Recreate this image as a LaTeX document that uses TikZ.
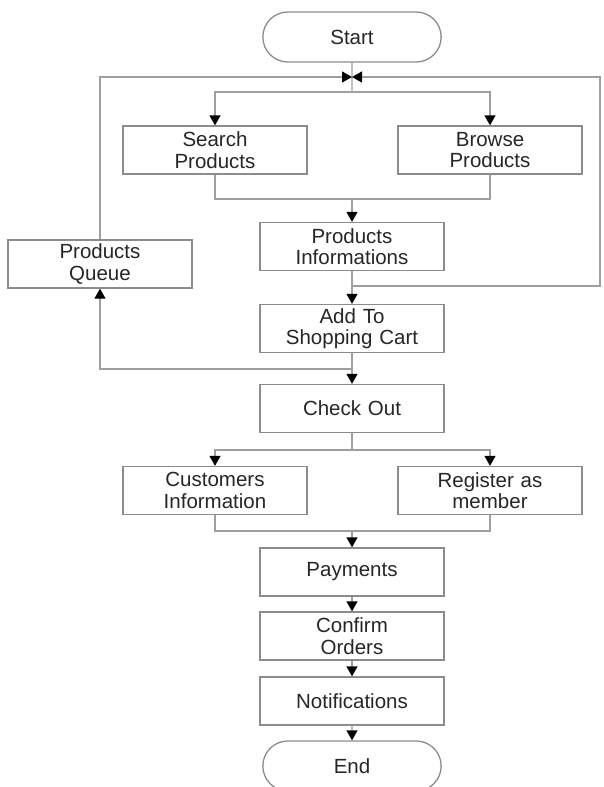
\documentclass[tikz,border=0pt]{standalone}
\usepackage{fontspec}
\setmainfont{Liberation Sans}
\usetikzlibrary{positioning,shapes.misc,arrows.meta}

\begin{document}
\begin{tikzpicture}[
  x=1pt, y=-1pt,
  every node/.style={font=\fontsize{20.5}{21.5}\selectfont, text=black!85},
  procbox/.style={draw=gray!90, line width=1.3pt, minimum width=184pt, minimum height=48pt, text width=178pt, align=center, inner sep=0pt},
  term/.style={draw=gray!90, line width=1.3pt, rounded rectangle, minimum width=185pt, minimum height=50pt},
  flow/.style={draw=gray!75, line width=1.3pt},
  arr/.style={flow, -{Triangle[width=11pt,length=10pt,color=black]}}
]
\useasboundingbox (0,0) rectangle (603,787);

\node[term] (start) at (352,37) {Start};
\node[procbox] (search) at (215,150) {Search\\Products};
\node[procbox] (browse) at (490,150) {Browse\\Products};
\node[procbox] (info) at (352,246.5) {Products\\Informations};
\node[procbox] (queue) at (100,264) {Products\\Queue};
\node[procbox] (cart) at (352,328.5) {Add To\\Shopping Cart};
\node[procbox] (checkout) at (352,408.5) {Check Out};
\node[procbox] (cust) at (215,490.5) {Customers\\Information};
\node[procbox] (reg) at (490,490.5) {Register as\\member};
\node[procbox] (pay) at (352,572) {Payments};
\node[procbox] (confirm) at (352,636) {Confirm\\Orders};
\node[procbox] (notif) at (352,701) {Notifications};
\node[term] (end) at (352,766) {End};

\coordinate (merge) at (352,77);
\coordinate (split1) at (352,92);
\coordinate (join1) at (352,199);
\coordinate (loopR) at (352,286);
\coordinate (rbot) at (600,286);
\coordinate (rtop) at (600,77);
\coordinate (loopL) at (352,369);
\coordinate (split2) at (352,450);
\coordinate (join2) at (352,531);

\draw[flow] (start) -- (split1);
\draw[arr] (split1) -| (search);
\draw[arr] (split1) -| (browse);
\draw[flow] (search) |- (join1);
\draw[flow] (browse) |- (join1);
\draw[arr] (join1) -- (info);
\draw[arr] (info) -- (cart);
\draw[arr] (loopR) -- (rbot) -- (rtop) -- (merge);
\draw[arr] (cart) -- (checkout);
\draw[arr] (loopL) -| (queue);
\draw[arr] (queue) |- (merge);
\draw[flow] (checkout) -- (split2);
\draw[arr] (split2) -| (cust);
\draw[arr] (split2) -| (reg);
\draw[flow] (cust) |- (join2);
\draw[flow] (reg) |- (join2);
\draw[arr] (join2) -- (pay);
\draw[arr] (pay) -- (confirm);
\draw[arr] (confirm) -- (notif);
\draw[arr] (notif) -- (end);
\end{tikzpicture}
\end{document}
